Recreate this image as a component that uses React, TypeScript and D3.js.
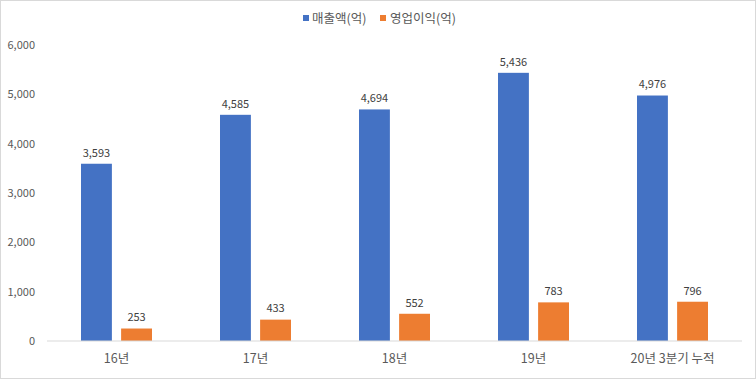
import React from "react";
import * as d3 from "d3";

const categories = ["16년", "17년", "18년", "19년", "20년 3분기 누적"];
const revenue = [3593, 4585, 4694, 5436, 4976];
const operatingProfit = [253, 433, 552, 783, 796];
const seriesNames = ["매출액(억)", "영업이익(억)"];
const yTicks = [0, 1000, 2000, 3000, 4000, 5000, 6000];

const W = 756;
const H = 379;
const colors = ["#4472C4", "#ED7D31"];
const font = "'Noto Sans CJK KR', 'Noto Sans', sans-serif";

export default function App() {
  const x = d3.scaleBand<string>().domain(categories).range([47, 742]);
  const y = d3.scaleLinear().domain([0, 6000]).range([341, 45]);
  const inner = d3.scaleBand<string>().domain(["0", "1"]).range([-35.5, 35.5]).paddingInner(0.23);
  const fmt = d3.format(",");
  const series = [revenue, operatingProfit];

  return (
    <svg width={W} height={H} style={{ position: "absolute", left: 0, top: 0, background: "#fff" }} fontFamily={font}>
      <rect x={0.5} y={0.5} width={W - 1} height={H - 1} fill="#fff" stroke="#d9d9d9" />
      {yTicks.map((t) => (
        <text key={t} x={35} y={y(t)} dy="0.35em" textAnchor="end" fontSize={11} fill="#595959">
          {fmt(t)}
        </text>
      ))}
      {series.map((vals, si) =>
        vals.map((v, i) => {
          const cx = (x(categories[i]) as number) + x.bandwidth() / 2;
          const bx = cx + (inner(String(si)) as number);
          return (
            <g key={`${si}-${i}`}>
              <rect x={bx} y={y(v)} width={inner.bandwidth()} height={y(0) - y(v)} fill={colors[si]} />
              <text x={bx + inner.bandwidth() / 2} y={y(v) - 11} dy="0.35em" textAnchor="middle" fontSize={11} fill="#404040">
                {fmt(v)}
              </text>
            </g>
          );
        })
      )}
      <line x1={47} x2={742} y1={341} y2={341} stroke="#d9d9d9" strokeWidth={1} />
      {categories.map((c) => (
        <text key={c} x={(x(c) as number) + x.bandwidth() / 2} y={359} dy="0.35em" textAnchor="middle" fontSize={12.5} fill="#595959">
          {c}
        </text>
      ))}
      <g>
        <rect x={303} y={15} width={6} height={6} fill={colors[0]} />
        <text x={312} y={18.5} dy="0.35em" fontSize={12.5} fill="#595959">{seriesNames[0]}</text>
        <rect x={380} y={15} width={6} height={6} fill={colors[1]} />
        <text x={390} y={18.5} dy="0.35em" fontSize={12.5} fill="#595959">{seriesNames[1]}</text>
      </g>
    </svg>
  );
}
